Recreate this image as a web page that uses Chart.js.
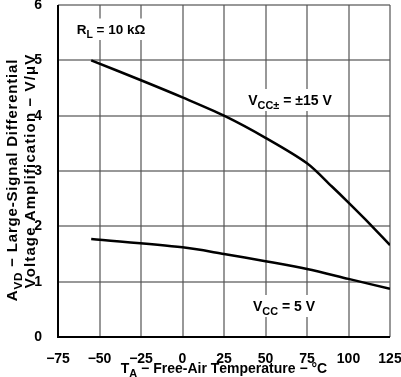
<!DOCTYPE html>
<html>
<head>
<meta charset="utf-8">
<script src="https://cdn.jsdelivr.net/npm/chart.js@4"></script>
<style>
  html, body { margin: 0; padding: 0; background: #fff; }
  #wrap { width: 401px; height: 377px; }
</style>
</head>
<body>
<div id="wrap"><canvas id="grafica" width="401" height="377"></canvas></div>
<script>
// Datos
const tempAlta = [-55, -25, 0, 25, 50, 75, 90, 100, 110, 125];
const avdAlta = [5.0, 4.64, 4.33, 4.0, 3.6, 3.14, 2.72, 2.43, 2.13, 1.66];
const tempBaja = [-55, 0, 25, 50, 75, 100, 125];
const avdBaja = [1.77, 1.62, 1.5, 1.37, 1.23, 1.05, 0.87];
const ticksX = [-75, -50, -25, 0, 25, 50, 75, 100, 125];
const ticksY = [0, 1, 2, 3, 4, 5, 6];

const FUENTE = "Liberation Sans, Arial, sans-serif";

// Texto con subíndices y espaciado opcional: partes = [[texto, esSub], ...]
function anchoTexto(ctx, partes, size, esp) {
    let total = 0;
    partes.forEach(p => {
        ctx.font = `bold ${p[1] ? size * 0.78 : size}px ${FUENTE}`;
        for (const c of p[0]) total += ctx.measureText(c).width + esp;
    });
    return total;
}

function textoSub(ctx, partes, x, y, size, esp) {
    esp = esp || 0;
    ctx.save();
    let cx = x - anchoTexto(ctx, partes, size, esp) / 2;
    ctx.textAlign = "left";
    ctx.textBaseline = "alphabetic";
    partes.forEach(p => {
        ctx.font = `bold ${p[1] ? size * 0.78 : size}px ${FUENTE}`;
        for (const c of p[0]) {
            ctx.fillText(c, cx, p[1] ? y + size * 0.3 : y);
            cx += ctx.measureText(c).width + esp;
        }
    });
    ctx.restore();
}

function etiquetaConFondo(ctx, partes, x, y, size) {
    ctx.save();
    const total = anchoTexto(ctx, partes, size, 0);
    ctx.fillStyle = "#fff";
    ctx.fillRect(x - total / 2 - 4, y - size - 2, total + 8, size + 8);
    ctx.fillStyle = "#000";
    textoSub(ctx, partes, x, y, size, 0);
    ctx.restore();
}

// Rejilla con rectángulos a partir de las escalas
const rejilla = {
    id: "rejilla",
    beforeDatasetsDraw(chart) {
        const ctx = chart.ctx;
        const a = chart.chartArea;
        const sx = chart.scales.x, sy = chart.scales.y;
        ctx.save();
        ctx.fillStyle = "#555";
        ticksX.forEach(v => {
            const px = Math.round(sx.getPixelForValue(v));
            ctx.fillRect(px - 0.6, a.top, 1.2, a.bottom - a.top);
        });
        ticksY.forEach(v => {
            const py = Math.round(sy.getPixelForValue(v));
            ctx.fillRect(a.left, py - 0.6, a.right - a.left, 1.2);
        });
        ctx.fillStyle = "#000";
        ctx.fillRect(a.left - 1, a.top, 2, a.bottom - a.top + 1);
        ctx.fillRect(a.left - 1, a.bottom - 1, a.right - a.left + 1, 2);
        ctx.restore();
    }
};

const textos = {
    id: "textos",
    afterDatasetsDraw(chart) {
        const ctx = chart.ctx;
        etiquetaConFondo(ctx, [["R", false], ["L", true], [" = 10 kΩ", false]], 111, 34, 13.5);
        etiquetaConFondo(ctx, [["V", false], ["CC±", true], [" = ±15 V", false]], 290, 105, 14);
        etiquetaConFondo(ctx, [["V", false], ["CC", true], [" = 5 V", false]], 284, 311, 14);
    },
    afterDraw(chart) {
        const ctx = chart.ctx;
        ctx.save();
        ctx.fillStyle = "#000";
        // título eje X
        textoSub(ctx, [["T", false], ["A", true], [" − Free-Air Temperature − °C", false]], 224, 373, 14, 0);
        // título eje Y (dos líneas, rotado)
        ctx.translate(17, 180);
        ctx.rotate(-Math.PI / 2);
        textoSub(ctx, [["A", false], ["VD", true], [" − Large-Signal Differential", false]], 0, 0, 15, 0.8);
        ctx.restore();
        ctx.save();
        ctx.fillStyle = "#000";
        ctx.translate(35, 171);
        ctx.rotate(-Math.PI / 2);
        textoSub(ctx, [["Voltage Amplification − V/μV", false]], 0, 0, 15, 1.1);
        ctx.restore();
    }
};

const serie = (xs, ys) => xs.map((t, i) => ({ x: t, y: ys[i] }));

new Chart(document.getElementById("grafica"), {
    type: "line",
    data: {
        datasets: [{
            label: "VCC± = ±15 V",
            data: serie(tempAlta, avdAlta),
            borderColor: "#000",
            borderWidth: 2.5,
            pointRadius: 0,
            tension: 0.3
        }, {
            label: "VCC = 5 V",
            data: serie(tempBaja, avdBaja),
            borderColor: "#000",
            borderWidth: 2.5,
            pointRadius: 0,
            tension: 0.3
        }]
    },
    options: {
        responsive: false,
        animation: false,
        layout: { padding: { top: 5, right: 11, left: 0, bottom: 0 } },
        plugins: { legend: { display: false }, tooltip: { enabled: false } },
        scales: {
            x: {
                type: "linear",
                min: ticksX[0],
                max: ticksX[ticksX.length - 1],
                afterFit: s => { s.height = 40; s.paddingLeft = 0; s.paddingRight = 0; },
                ticks: {
                    stepSize: 25,
                    color: "#000",
                    maxRotation: 0,
                    autoSkip: false,
                    padding: 6,
                    font: { family: FUENTE, size: 14, weight: "bold" },
                    callback: v => String(v).replace("-", "−")
                },
                grid: { display: false },
                border: { display: false }
            },
            y: {
                min: ticksY[0],
                max: ticksY[ticksY.length - 1],
                afterFit: s => { s.width = 58; s.paddingTop = 0; s.paddingBottom = 0; },
                ticks: {
                    stepSize: 1,
                    color: "#000",
                    padding: 8,
                    font: { family: FUENTE, size: 14, weight: "bold" }
                },
                grid: { display: false },
                border: { display: false }
            }
        }
    },
    plugins: [rejilla, textos]
});
</script>
</body>
</html>
